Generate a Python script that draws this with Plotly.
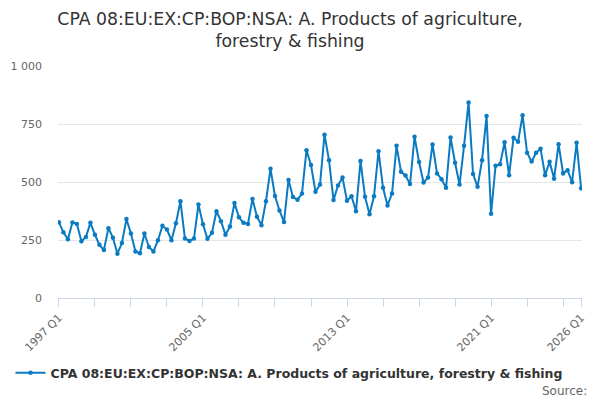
import plotly.graph_objects as go

years = list(range(1997, 2027))
quarters = [f"{y} Q{q}" for y in years for q in range(1, 5)][:117]

values = [
    327, 283, 253, 325, 319, 245, 263, 324, 273, 229, 207, 301, 260, 191, 237, 340,
    278, 200, 193, 278, 220, 200, 249, 311, 295, 249, 322, 417, 256, 246, 256, 403,
    318, 255, 281, 374, 331, 273, 308, 409, 348, 324, 319, 427, 350, 314, 417, 557,
    440, 377, 328, 509, 435, 424, 450, 637, 573, 458, 489, 704, 594, 422, 485, 519,
    419, 439, 374, 590, 436, 361, 439, 633, 475, 399, 450, 656, 544, 528, 491, 695,
    586, 498, 519, 662, 537, 512, 475, 692, 583, 489, 656, 843, 534, 479, 594, 784,
    363, 570, 577, 671, 529, 691, 673, 788, 626, 588, 626, 643, 529, 587, 514, 663,
    537, 551, 499, 669, 473,
]

series_name = "CPA 08:EU:EX:CP:BOP:NSA: A. Products of agriculture, forestry & fishing"
title_text = "CPA 08:EU:EX:CP:BOP:NSA: A. Products of agriculture,<br>forestry & fishing"
labelled = ["1997 Q1", "2005 Q1", "2013 Q1", "2021 Q1", "2026 Q1"]

tick_cats = quarters[::8] + [quarters[-1]]
tick_text = [c if c in labelled else "" for c in tick_cats]

W, H = 592, 392
color = "#0a7bc2"
fig = go.Figure()
fig.add_trace(go.Scatter(
    x=quarters, y=values, mode="lines+markers", name=series_name,
    line=dict(color=color, width=2),
    marker=dict(color=color, size=4.5),
))

fig.update_layout(
    width=W, height=H,
    paper_bgcolor="white", plot_bgcolor="white",
    font=dict(family="DejaVu Sans", color="#333333"),
    separators=". ",
    margin=dict(l=50, r=18, t=58, b=102, autoexpand=False),
    title=dict(text=title_text, x=282 / W, xref="container", xanchor="center",
               y=1 - 17 / H, yref="container", yanchor="top",
               font=dict(size=17.3, color="#333333")),
    showlegend=True,
    legend=dict(orientation="h", x=281 / W, xref="container", xanchor="center",
                y=1 - 365 / H, yref="container", yanchor="middle",
                font=dict(size=12.5, color="#333333", weight="bold"),
                itemwidth=30),
)
fig.update_xaxes(
    type="category", range=[-0.2, 116.2],
    tickmode="array", tickvals=tick_cats, ticktext=tick_text,
    tickangle=-45, tickfont=dict(size=11, color="#666666"),
    ticks="outside", ticklen=8, tickcolor="#ccd6eb",
    showline=True, linecolor="#ccd6eb", linewidth=1,
    showgrid=False, zeroline=False,
)
fig.update_yaxes(
    range=[0, 1000], tickvals=[0, 250, 500, 750, 1000],
    tickformat=",d",
    tickfont=dict(size=11, color="#666666"),
    showgrid=True, gridcolor="#e6e6e6", gridwidth=1,
    zeroline=False, showline=False, ticks="", ticklabelstandoff=15,
)
fig.add_annotation(text="Source:", xref="paper", yref="paper",
                   x=1 + 7 / (W - 68), y=-(383 - 290) / (H - 160),
                   xanchor="right", yanchor="middle", showarrow=False,
                   font=dict(size=12, color="#666666"))

fig.write_html("out.html")
